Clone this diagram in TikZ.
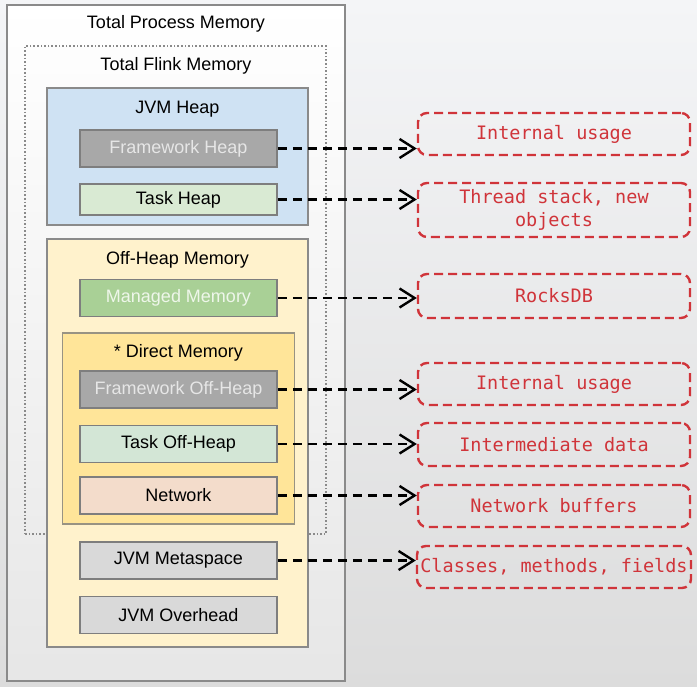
\documentclass[tikz,border=0pt]{standalone}
\usepackage{fontspec}
\setmainfont{Liberation Sans}
\newfontfamily\notefont{DejaVu Sans Mono}
\usetikzlibrary{arrows.meta}
\definecolor{bgtop}{HTML}{F4F5F7}
\definecolor{bgbot}{HTML}{DCDCDC}
\definecolor{framegray}{HTML}{8A8A8A}
\definecolor{boxgray}{HTML}{7E7E7E}
\definecolor{heapblue}{HTML}{CFE2F3}
\definecolor{offyellow}{HTML}{FFF2CC}
\definecolor{directyellow}{HTML}{FFE599}
\definecolor{fwgray}{HTML}{A8A8A8}
\definecolor{fwtext}{HTML}{E6E6E6}
\definecolor{taskgreen}{HTML}{D9EAD3}
\definecolor{taskoffgreen}{HTML}{D3E6D6}
\definecolor{managedgreen}{HTML}{A9D096}
\definecolor{managedtext}{HTML}{EEF6EA}
\definecolor{netpeach}{HTML}{F3DCCB}
\definecolor{jvmgray}{HTML}{D9D9D9}
\definecolor{notered}{HTML}{D0343A}
\tikzset{
  area/.style={rectangle, draw=framegray, line width=1.5pt},
  title/.style={font=\fontsize{18}{21}\selectfont},
  box/.style={rectangle, draw=boxgray, line width=1.5pt, minimum width=197pt,
    minimum height=37pt, font=\fontsize{18}{21}\selectfont},
  note/.style={rectangle, rounded corners=9pt, draw=notered, line width=2.4pt,
    dash pattern=on 9pt off 5pt, text=notered, align=center, minimum width=272pt,
    minimum height=42pt, font=\notefont\fontsize{18.5}{23}\selectfont},
  link/.style={draw=black, line width=2.6pt, dash pattern=on 9pt off 6pt,
    -{Straight Barb[length=15pt,width=19pt,line width=2.4pt]}}
}
\begin{document}
\begin{tikzpicture}[x=1pt,y=-1pt]
\path[top color=bgtop, bottom color=bgbot] (0,0) rectangle (697,687);
\useasboundingbox (0,0) rectangle (697,687);
% zones de memoire
\node (P) at (176,343) [area, top color=white, bottom color=bgbot!70!white, minimum width=338pt, minimum height=676pt] {};
\node (F) at (175.5,290) [rectangle, draw=framegray, line width=1.6pt, dotted, minimum width=301pt, minimum height=488pt] {};
\node (H) at (177.5,156.5) [area, fill=heapblue, minimum width=261pt, minimum height=137pt] {};
\node (O) at (177.5,443) [area, fill=offyellow, minimum width=261pt, minimum height=408pt] {};
\node (D) at (178.5,428.5) [area, draw=boxgray!80!directyellow, fill=directyellow, minimum width=232pt, minimum height=191pt] {};
\node (tP) at (176,24) [title] {Total Process Memory};
\node (tF) at (176,66) [title] {Total Flink Memory};
\node (tH) at (177.5,109) [title] {JVM Heap};
\node (tO) at (177.5,260) [title] {Off-Heap Memory};
\node (tD) at (178.5,353) [title] {* Direct Memory};
% blocs
\node (fh) at (178.5,148.5) [box, fill=fwgray, text=fwtext] {Framework Heap};
\node (th) at (178.5,199.5) [box, fill=taskgreen, minimum height=31pt] {Task Heap};
\node (mm) at (178.5,298) [box, fill=managedgreen, text=managedtext] {Managed Memory};
\node (fo) at (178.5,389.5) [box, fill=fwgray, text=fwtext] {Framework Off-Heap};
\node (to) at (178.5,444) [box, fill=taskoffgreen] {Task Off-Heap};
\node (nw) at (178.5,495.5) [box, fill=netpeach] {Network};
\node (ms) at (178.5,560.5) [box, fill=jvmgray] {JVM Metaspace};
\node (oh) at (178.5,615) [box, fill=jvmgray] {JVM Overhead};
% usages
\node (u1) at (554,134) [note] {Internal usage};
\node (u2) at (554,210) [note, minimum height=54pt] {Thread stack, new\\objects};
\node (u3) at (554,296) [note, minimum height=44pt] {RocksDB};
\node (u4) at (554,384) [note] {Internal usage};
\node (u5) at (554,444.5) [note, minimum height=43pt] {Intermediate data};
\node (u6) at (554,506) [note] {Network buffers};
\node (u7) at (554,567) [note] {Classes, methods, fields};
\draw[link] (fh.east) -- (fh.east -| u1.west);
\draw[link] (th.east) -- (th.east -| u2.west);
\draw[link] (mm.east) -- (mm.east -| u3.west);
\draw[link] (fo.east) -- (fo.east -| u4.west);
\draw[link] (to.east) -- (to.east -| u5.west);
\draw[link] (nw.east) -- (nw.east -| u6.west);
\draw[link] (ms.east) -- (ms.east -| u7.west);
\end{tikzpicture}
\end{document}
